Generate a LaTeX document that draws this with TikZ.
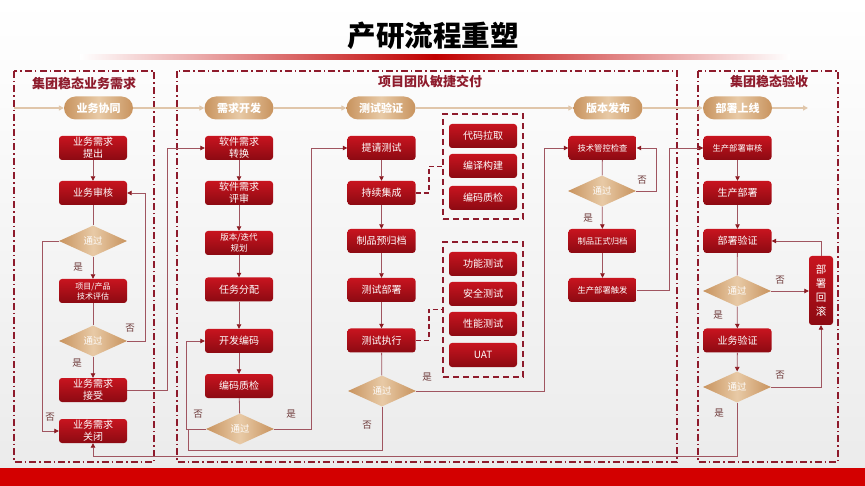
\documentclass[tikz,border=0pt]{standalone}
\usepackage{fontspec}
\setmainfont{Noto Sans CJK SC}
\usetikzlibrary{shapes.geometric,arrows.meta}
\definecolor{boxtop}{HTML}{C8141F}
\definecolor{boxbot}{HTML}{8C0A12}
\definecolor{tanedge}{HTML}{C8935E}
\definecolor{tanmid}{HTML}{E8CAA6}
\definecolor{phasecol}{HTML}{E0C6AA}
\definecolor{conncol}{HTML}{A05560}
\definecolor{tipcol}{HTML}{8C1A22}
\definecolor{grpcol}{HTML}{8E1B2C}
\definecolor{labcol}{HTML}{6E3A3A}
\definecolor{bandred}{HTML}{D30000}
\definecolor{titlered}{HTML}{C00000}
\tikzset{
  redbox/.style={rectangle, rounded corners=3pt, minimum width=68pt, minimum height=24pt,
    inner sep=1pt, top color=boxtop, bottom color=boxbot, text=white, align=center,
    font=\fontsize{10}{12}\selectfont},
  smallbox/.style={redbox, font=\fontsize{8.3}{10}\selectfont},
  dia/.style={diamond, aspect=2.2, minimum width=68pt, minimum height=31pt, inner sep=0pt,
    left color=tanedge, right color=tanedge, middle color=tanmid, text=white,
    font=\fontsize{9.5}{10}\selectfont},
  pill/.style={rectangle, rounded corners=11.5pt, minimum width=69pt, minimum height=23pt,
    inner sep=0pt, left color=tanedge, right color=tanedge, middle color=tanmid, text=white,
    font=\bfseries\fontsize{11}{12}\selectfont},
  conn/.style={draw=conncol, line width=0.8pt, -{Triangle[length=4.5pt,width=4.5pt,color=tipcol]}},
  plain/.style={draw=conncol, line width=0.8pt},
  phase/.style={draw=phasecol, line width=1.6pt, -{Triangle[length=5pt,width=5pt,color=phasecol]}},
  gbox/.style={draw=grpcol, line width=1.8pt, dash pattern=on 7pt off 3pt on 1.5pt off 3pt},
  dbox/.style={draw=grpcol, line width=1.8pt, dash pattern=on 6pt off 4pt, minimum width=80pt},
  dconn/.style={draw=grpcol, line width=1.8pt, dash pattern=on 5pt off 3pt},
  grptitle/.style={text=grpcol, font=\bfseries\fontsize{13}{14}\selectfont},
  lab/.style={text=labcol, font=\fontsize{9.5}{10}\selectfont},
}
\begin{document}
\begin{tikzpicture}[x=1pt,y=-1pt]
% background
\fill[top color=white, bottom color=black!8] (0,0) rectangle (865,486);
\fill[bandred] (0,468) rectangle (865,486);
% title
\node[font=\bfseries\fontsize{28.5}{30}\selectfont] (title) at (433,36) {产研流程重塑};
\shade[left color=white, right color=white, middle color=titlered] (80,55) rectangle (790,59.5);
% group boxes
\draw[gbox] (14,71) rectangle (154,462);
\draw[gbox] (177,71) rectangle (677,462);
\draw[gbox] (698,71) rectangle (838,462);
\node[grptitle] (gt1) at (84,83) {集团稳态业务需求};
\node[grptitle] (gt2) at (430,82) {项目团队敏捷交付};
\node[grptitle] (gt3) at (769,82) {集团稳态验收};
% phases
\node[pill] (p1) at (98.5,108) {业务协同};
\node[pill] (p2) at (239,108) {需求开发};
\node[pill] (p3) at (381,108) {测试验证};
\node[pill] (p4) at (608,108) {版本发布};
\node[pill] (p5) at (737.5,108) {部署上线};
\coordinate (ps) at (14,108);
\coordinate (pe) at (808,108);
\draw[phase] (ps) -- (p1.west);
\draw[phase] (p1.east) -- (p2.west);
\draw[phase] (p2.east) -- (p3.west);
\draw[phase] (p3.east) -- (p4.west);
\draw[phase] (p4.east) -- (p5.west);
\draw[phase] (p5.east) -- (pe);
% column 1
\node[redbox] (a1) at (93,148) {业务需求\\提出};
\node[redbox] (a2) at (93,193) {业务审核};
\node[dia] (ad1) at (93,241) {通过};
\node[redbox, font=\fontsize{8}{10}\selectfont] (a3) at (93,291) {项目/产品\\技术评估};
\node[dia] (ad2) at (93,341) {通过};
\node[redbox] (a4) at (93,390) {业务需求\\接受};
\node[redbox] (a5) at (93,431) {业务需求\\关闭};
% column 2
\node[redbox] (b1) at (239,148) {软件需求\\转换};
\node[redbox] (b2) at (239,193) {软件需求\\评审};
\node[redbox, font=\fontsize{8.5}{11}\selectfont] (b3) at (239,243) {版本/迭代\\规划};
\node[redbox] (b4) at (239,289.5) {任务分配};
\node[redbox] (b5) at (239,341) {开发编码};
\node[redbox] (b6) at (239,386) {编码质检};
\node[dia] (bd) at (240,429) {通过};
% column 3
\node[redbox] (c1) at (381.5,148) {提请测试};
\node[redbox] (c2) at (381.5,193) {持续集成};
\node[redbox] (c3) at (381.5,241) {制品预归档};
\node[redbox] (c4) at (381.5,290) {测试部署};
\node[redbox] (c5) at (381.5,340.5) {测试执行};
\node[dia] (cd) at (382,391) {通过};
% dashed groups
\node[dbox, minimum height=105pt] (box1) at (483,166.5) {};
\node[redbox] (d1) at (483,136) {代码拉取};
\node[redbox] (d2) at (483,166) {编译构建};
\node[redbox] (d3) at (483,198) {编码质检};
\node[dbox, minimum height=135pt] (box2) at (483,309.5) {};
\node[redbox] (e1) at (483,264) {功能测试};
\node[redbox] (e2) at (483,294) {安全测试};
\node[redbox] (e3) at (483,324) {性能测试};
\node[redbox] (e4) at (483,355) {UAT};
% column 4
\node[smallbox] (f1) at (602.5,148) {技术管控检查};
\node[dia] (fd) at (602,191) {通过};
\node[smallbox] (f2) at (602.5,241) {制品正式归档};
\node[smallbox] (f3) at (602.5,290) {生产部署触发};
% column 5
\node[smallbox] (g1) at (737.5,148) {生产部署审核};
\node[redbox] (g2) at (737.5,193) {生产部署};
\node[redbox] (g3) at (737.5,241) {部署验证};
\node[dia] (gd1) at (737,291) {通过};
\node[redbox] (g4) at (737.5,340.5) {业务验证};
\node[dia] (gd2) at (737,387) {通过};
\node[redbox, minimum width=24pt, minimum height=69pt, font=\fontsize{10.5}{14}\selectfont] (gr) at (821,290.5) {部\\署\\回\\滚};
% connectors column 1
\draw[conn] (a1) -- (a2);
\draw[plain] (a2) -- (ad1);
\draw[conn] (ad1) -- (a3);
\draw[conn] (ad1.west) -- ++(-16,0) |- (a5.west);
\draw[plain] (a3) -- (ad2);
\draw[conn] (ad2.east) -- ++(18,0) |- (a2.east);
\draw[conn] (ad2) -- (a4);
\draw[conn] (a4.east) -- ++(40,0) |- (b1.west);
\node[lab] (l1) at (78,267) {是};
\node[lab] (l2) at (130,328) {否};
\node[lab] (l3) at (77,363) {是};
\node[lab] (l4) at (50,417) {否};
% connectors column 2
\draw[conn] (b1) -- (b2);
\draw[conn] (b2) -- (b3);
\draw[conn] (b3) -- (b4);
\draw[conn] (b4) -- (b5);
\draw[conn] (b5) -- (b6);
\draw[plain] (b6) -- (bd);
\draw[conn] (bd.east) -- ++(37,0) |- (c1.west);
\draw[conn] (bd.west) -- ++(-19,0) |- (b5.west);
\node[lab] (l5) at (198,414) {否};
\node[lab] (l6) at (291,414) {是};
% connectors column 3
\draw[conn] (c1) -- (c2);
\draw[conn] (c2) -- (c3);
\draw[conn] (c3) -- (c4);
\draw[conn] (c4) -- (c5);
\draw[plain] (c5) -- (cd);
\coordinate (j1) at (188,429);
\draw[plain] (cd.south) |- (188,450) -- (j1);
\draw[conn] (cd.east) -- (544,391) |- (f1.west);
\draw[dconn] (c2.east) -- ++(13,0) |- (box1.west);
\draw[dconn] (c5.east) -- ++(13,0) |- (box2.west);
\node[lab] (l7) at (427,377) {是};
\node[lab] (l8) at (367,425) {否};
% connectors column 4
\draw[plain] (f1) -- (fd);
\draw[conn] (fd.east) -- ++(20,0) |- (f1.east);
\draw[conn] (fd) -- (f2);
\draw[conn] (f2) -- (f3);
\draw[conn] (f3.east) -- ++(32.5,0) |- (g1.west);
\node[lab] (l9) at (642,180) {否};
\node[lab] (l10) at (588,218) {是};
% connectors column 5
\draw[conn] (g1) -- (g2);
\draw[conn] (g2) -- (g3);
\draw[plain] (g3) -- (gd1);
\draw[conn] (gd1.east) -- (gr.west |- gd1.east);
\draw[conn] (gr.north) |- (g3.east);
\draw[conn] (gd1) -- (g4);
\draw[conn] (g4) -- (gd2);
\draw[conn] (gd2.east) -| (gr.south);
\draw[conn] (gd2.south) |- (93,456) -- (a5.south);
\node[lab] (l11) at (780,280) {否};
\node[lab] (l12) at (718,315) {是};
\node[lab] (l13) at (780,375) {否};
\node[lab] (l14) at (719,413) {是};
\end{tikzpicture}
\end{document}
